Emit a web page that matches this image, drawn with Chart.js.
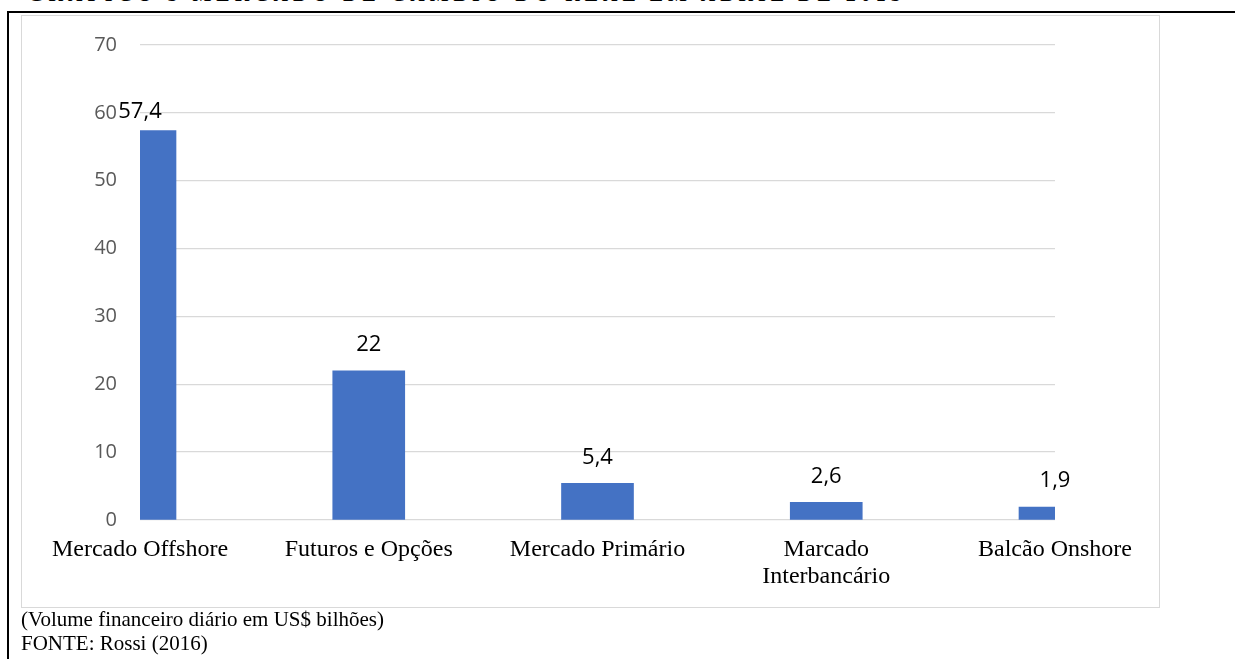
<!DOCTYPE html>
<html lang="pt-BR">
<head>
<meta charset="utf-8">
<title>Mercado de câmbio do real</title>
<script src="https://cdn.jsdelivr.net/npm/chart.js@4/dist/chart.umd.min.js"></script>
<style>
  html, body { margin: 0; padding: 0; background: #ffffff; }
  body { width: 1235px; height: 659px; position: relative; overflow: hidden; }
  #titulo {
    position: absolute; left: 28px; top: -17px; margin: 0;
    font: bold 20px "Liberation Serif", "Times New Roman", serif;
    color: #000; white-space: nowrap; letter-spacing: 5px;
  }
  #linhaTopo { position: absolute; left: 7px; right: 0; top: 11px; height: 2px; background: #000; }
  #linhaEsq { position: absolute; left: 7px; top: 11px; bottom: 0; width: 2px; background: #000; }
  #moldura {
    position: absolute; left: 21px; top: 15px; width: 1137px; height: 591px;
    border: 1.5px solid #d9d9d9; box-sizing: content-box;
  }
  #rodape {
    position: absolute; left: 21px; top: 607px; margin: 0;
    font: 21px/24px "Liberation Serif", "Times New Roman", serif; color: #000;
  }
  #grafico { position: absolute; left: 0; top: 0; }
</style>
</head>
<body>
<div id="titulo">GRÁFICO 3 MERCADO DE CÂMBIO DO REAL EM ABRIL DE 2013</div>
<div id="linhaTopo"></div>
<div id="linhaEsq"></div>
<div id="moldura"></div>
<canvas id="grafico" width="1235" height="659"></canvas>
<p id="rodape">(Volume financeiro diário em US$ bilhões)<br>FONTE: Rossi (2016)</p>
<script>
// Segmentos do mercado de câmbio e volume diário (US$ bilhões)
const categorias = [
  'Mercado Offshore',
  'Futuros e Opções',
  'Mercado Primário',
  ['Marcado', 'Interbancário'],
  'Balcão Onshore'
];
const volumes = [57.4, 22, 5.4, 2.6, 1.9];
const ticksY = [0, 10, 20, 30, 40, 50, 60, 70];

const formatoBR = v => String(v).replace('.', ',');

// Rótulos de valor acima de cada barra, mantidos abaixo do topo da área
const rotulosValor = {
  id: 'rotulosValor',
  afterDatasetsDraw(chart) {
    const ctx = chart.ctx;
    const meta = chart.getDatasetMeta(0);
    const limite = chart.chartArea.top + 67;
    ctx.save();
    ctx.font = '22px "Open Sans", sans-serif';
    ctx.fillStyle = '#000000';
    ctx.textAlign = 'center';
    ctx.textBaseline = 'middle';
    meta.data.forEach((bar, i) => {
      const y = Math.max(bar.y - 26, limite);
      ctx.fillText(formatoBR(chart.data.datasets[0].data[i]), bar.x, y);
    });
    ctx.restore();
  }
};

new Chart(document.getElementById('grafico'), {
  type: 'bar',
  data: {
    labels: categorias,
    datasets: [{
      data: volumes,
      backgroundColor: '#4472C4',
      borderWidth: 0,
      barThickness: 72,
      clip: 0
    }]
  },
  options: {
    responsive: false,
    animation: false,
    layout: { padding: { left: 0, right: 180, top: 45, bottom: 0 } },
    plugins: { legend: { display: false }, tooltip: { enabled: false } },
    scales: {
      x: {
        offset: false,
        grid: { display: false, drawTicks: false },
        border: { display: false },
        ticks: {
          autoSkip: false, maxRotation: 0, minRotation: 0, padding: 16,
          color: '#000000',
          font: { family: '"Liberation Serif", "Times New Roman", serif', size: 24, lineHeight: 1.125 }
        },
        afterFit(scale) { scale.height = 139; }
      },
      y: {
        min: 0, max: 70,
        afterBuildTicks(scale) { scale.ticks = ticksY.map(v => ({ value: v })); },
        grid: { color: '#d9d9d9', lineWidth: 1.3, drawTicks: false },
        border: { display: false },
        ticks: {
          padding: 23, color: '#595959',
          font: { family: '"Open Sans", sans-serif', size: 20 }
        },
        afterFit(scale) { scale.width = 140; }
      }
    }
  },
  plugins: [rotulosValor]
});
</script>
</body>
</html>
